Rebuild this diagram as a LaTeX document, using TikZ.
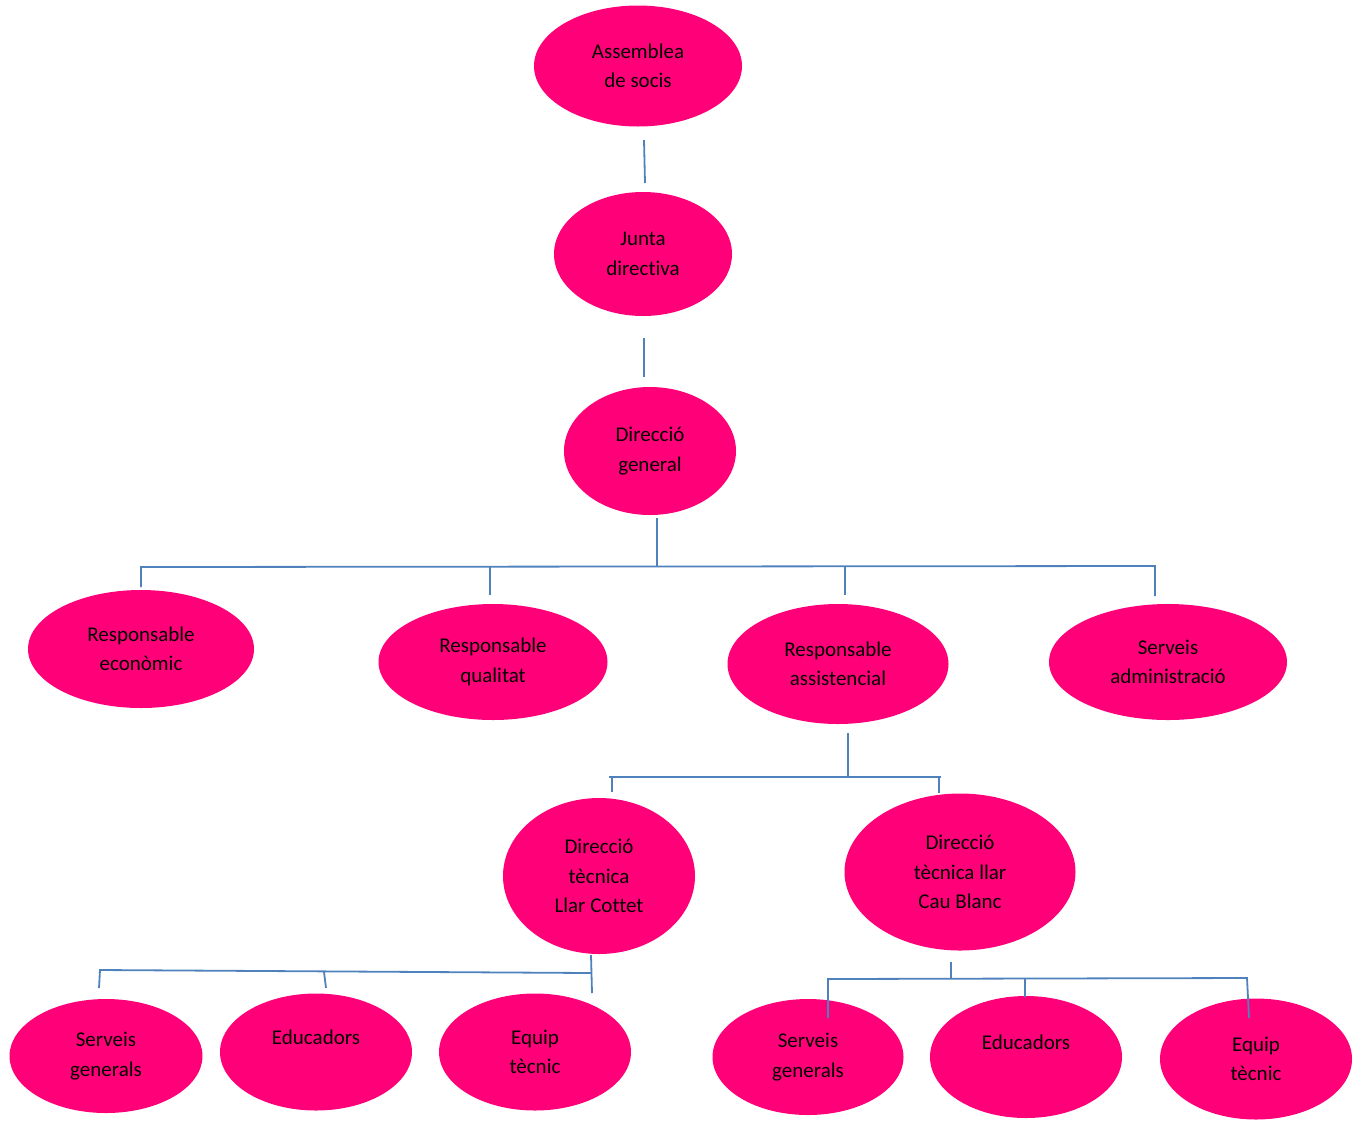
\documentclass[tikz,border=0pt]{standalone}
\usepackage{fontspec}
\setmainfont[Ligatures=NoCommon]{Carlito}
\usetikzlibrary{shapes.geometric}
\definecolor{orgpink}{RGB}{255,0,120}
\definecolor{orgblue}{RGB}{79,129,189}
\definecolor{orgtext}{RGB}{0,0,0}

\begin{document}
\begin{tikzpicture}[
    x=1pt, y=-1pt,
    line cap=butt, line join=miter,
    unit/.style={ellipse, fill=orgpink, inner sep=0pt, align=center,
                 text=orgtext, font=\fontsize{21}{29.5}\selectfont},
    link/.style={orgblue, line width=1.8pt},
  ]
  \useasboundingbox (0,0) rectangle (1359,1120);

  % ---- units --------------------------------------------------
  \node[unit, minimum width=208pt, minimum height=121pt] (asm)    at ( 638,  66) {Assemblea\\de socis};
  \node[unit, minimum width=178pt, minimum height=124pt] (junta)  at ( 643, 254) {Junta\\directiva};
  \node[unit, minimum width=172pt, minimum height=128pt] (dirgen) at ( 650, 451) {Direcció\\general};

  \node[unit, minimum width=226pt, minimum height=118pt] (reco)   at ( 141, 649) {Responsable\\econòmic};
  \node[unit, minimum width=229pt, minimum height=116pt] (rqual)  at ( 493, 662) {Responsable\\qualitat};
  \node[unit, minimum width=221pt, minimum height=120pt] (rasis)  at ( 838, 664) {Responsable\\assistencial};
  \node[unit, minimum width=238pt, minimum height=116pt] (sadm)   at (1168, 662) {Serveis\\administració};

  \node[unit, minimum width=192pt, minimum height=156pt] (dtcot)  at ( 599, 876) {Direcció\\tècnica\\Llar Cottet};
  \node[unit, minimum width=231pt, minimum height=157pt] (dtcau)  at ( 960, 872) {Direcció\\tècnica llar\\Cau Blanc};

  \node[unit, minimum width=193pt, minimum height=114pt] (sgenL)  at ( 106,1056) {Serveis\\generals};
  \node[unit, minimum width=192pt, minimum height=117pt] (eduL)   at ( 316,1052) {Educadors\\~};
  \node[unit, minimum width=192pt, minimum height=117pt] (eqL)    at ( 535,1052) {Equip\\tècnic};

  \node[unit, minimum width=191pt, minimum height=116pt] (sgenR)  at ( 808,1057) {Serveis\\generals};
  \node[unit, minimum width=192pt, minimum height=122pt] (eduR)   at (1026,1057) {Educadors\\~};
  \node[unit, minimum width=192pt, minimum height=121pt] (eqR)    at (1256,1059) {Equip\\tècnic};

  % ---- connector end points -----------------------------------
  \coordinate (asmB)   at ( 644, 140);
  \coordinate (juntaT) at ( 645, 183);
  \coordinate (juntaB) at ( 644, 338);
  \coordinate (dirT)   at ( 644, 377);
  \coordinate (dirB)   at ( 657, 518);
  \coordinate (bus1M)  at ( 657, 566);
  \coordinate (bus1L)  at ( 141, 567);
  \coordinate (bus1R)  at (1155, 566);
  \coordinate (ecoT)   at ( 141, 587);
  \coordinate (qualH)  at ( 490, 567);
  \coordinate (qualT)  at ( 490, 595);
  \coordinate (asisH)  at ( 845, 567);
  \coordinate (asisT)  at ( 845, 595);
  \coordinate (admT)   at (1155, 596);

  \coordinate (asisB)  at ( 848, 733);
  \coordinate (bus2M)  at ( 848, 777);
  \coordinate (bus2L)  at ( 609, 777);
  \coordinate (bus2R)  at ( 941, 777);
  \coordinate (cotH)   at ( 612, 777);
  \coordinate (cotT)   at ( 612, 792);
  \coordinate (cauH)   at ( 939, 777);
  \coordinate (cauT)   at ( 939, 793);

  \coordinate (cotB)   at ( 591, 955);
  \coordinate (bus3R)  at ( 591, 973);
  \coordinate (bus3L)  at ( 100, 970);
  \coordinate (sgLT)   at (  99, 988);
  \coordinate (edLH)   at ( 324, 972);
  \coordinate (edLT)   at ( 326, 988);
  \coordinate (eqLT)   at ( 592, 993);

  \coordinate (cauB)   at ( 951, 962);
  \coordinate (bus4M)  at ( 951, 979);
  \coordinate (bus4L)  at ( 828, 979);
  \coordinate (bus4R)  at (1247, 978);
  \coordinate (sgRT)   at ( 828,1018);
  \coordinate (edRH)   at (1025, 979);
  \coordinate (edRT)   at (1025, 997);
  \coordinate (eqRT)   at (1249,1018);

  % ---- links --------------------------------------------------
  \draw[link] (asmB) -- (juntaT);
  \draw[link] (juntaB) -- (dirT);
  \draw[link] (dirB) -- (bus1M);
  \draw[link] (ecoT) -- (bus1L) -- (bus1R) -- (admT);
  \draw[link] (qualH) -- (qualT);
  \draw[link] (asisH) -- (asisT);

  \draw[link] (asisB) -- (bus2M);
  \draw[link] (bus2L) -- (bus2R);
  \draw[link] (cotH) -- (cotT);
  \draw[link] (cauH) -- (cauT);

  \draw[link] (cotB) -- (eqLT);
  \draw[link] (sgLT) -- (bus3L) -- (bus3R);
  \draw[link] (edLH) -- (edLT);

  \draw[link] (cauB) -- (bus4M);
  \draw[link] (sgRT) -- (bus4L) -- (bus4R) -- (eqRT);
  \draw[link] (edRH) -- (edRT);

\end{tikzpicture}
\end{document}
